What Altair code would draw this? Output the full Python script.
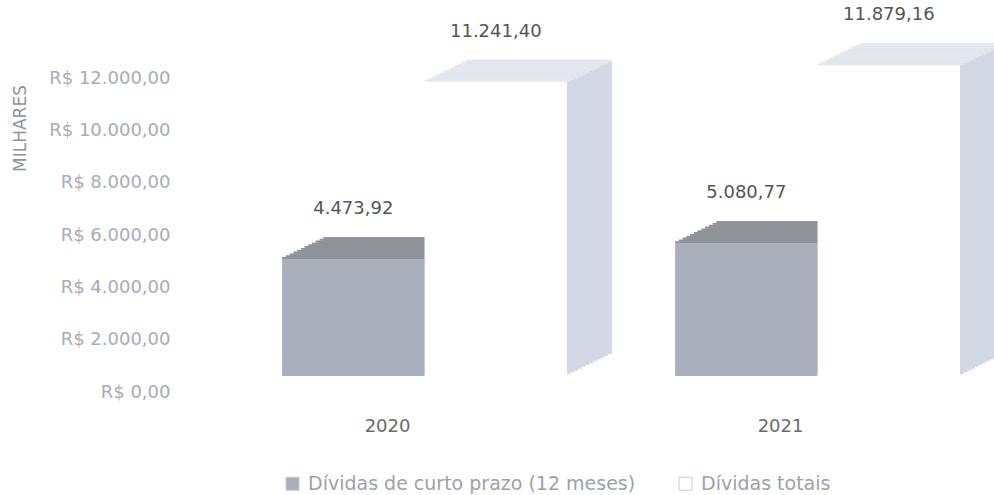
import altair as alt
import pandas as pd

# ---- data ----
years = ["2020", "2021"]
series = ["Dívidas de curto prazo (12 meses)", "Dívidas totais"]
short_term = [4473.92, 5080.77]
total = [11241.40, 11879.16]
y_ticks = [0, 2000, 4000, 6000, 8000, 10000, 12000]

# ---- styles ----
front_colors = ["#a9afbc", "#ffffff"]
side_colors = ["#8e9299", "#d3d9e4"]
top_colors = ["#8e9299", "#e4e8ef"]
FONT = "DejaVu Sans"

rows = []
for i, yr in enumerate(years):
    rows.append({"year": yr, "series": series[0], "value": short_term[i]})
    rows.append({"year": yr, "series": series[1], "value": total[i]})
df = pd.DataFrame(rows)

br_fmt = "replace(replace(replace(format(datum.value, ',.2f'), ',', '#'), '.', ','), '#', '.')"

x_scale = alt.Scale(domain=years, paddingInner=0.275, paddingOuter=0.1756, align=0.754)
x_axis = alt.Axis(domain=False, ticks=False, tickSize=0, labelPadding=25,
                  labelOffset=-37, labelAngle=0, labelFontSize=18,
                  labelColor="#6b6b6b", labelFont=FONT, grid=False)
y_enc = alt.Y(
    "value:Q",
    scale=alt.Scale(domain=[0, 12000], nice=False, zero=True, padding=0),
    axis=alt.Axis(values=y_ticks, labelExpr="'R$ ' + " + br_fmt,
                  domain=False, ticks=False, tickSize=0, grid=False,
                  labelPadding=8, labelFontSize=18, labelColor="#a6acb8",
                  labelFont=FONT, title="MILHARES", titleFont=FONT,
                  titleFontSize=17, titleFontWeight="normal",
                  titleColor="#8d929b", titleAngle=270, titleX=-158,
                  titleY=50, titleAlign="center", titleBaseline="middle"),
)


def series_chart(j):
    return alt.Chart(df).transform_filter(
        alt.datum.series == series[j]
    ).transform_calculate(label=br_fmt)


def x_enc(j):
    return dict(
        x=alt.X("year:N", title=None, scale=x_scale, axis=x_axis,
                bandPosition=0.5 * j),
        x2=alt.X2("year:N", bandPosition=0.5 * j + 0.5),
    )


FLOOR = -16          # front faces sit slightly above the axis zero (3D floor)
DEPTH_X, DEPTH_Y = 45, 22
n = 12

# side / depth extrusion: shifted copies drawn behind the front faces
depth_layers = []
for j in range(len(series)):
    for k in range(n, 0, -1):
        dx = DEPTH_X * k / n
        dy = FLOOR - DEPTH_Y * k / n
        depth_layers.append(
            series_chart(j).mark_bar(color=side_colors[j],
                                     xOffset=dx, x2Offset=dx,
                                     yOffset=dy, y2Offset=dy)
            .encode(y=y_enc, y2=alt.Y2(datum=0), **x_enc(j))
        )

# top faces: thin slanted strips above each front face
top_layers = []
for j in range(len(series)):
    for k in range(1, n + 1):
        dx = DEPTH_X * k / n
        top_layers.append(
            series_chart(j).mark_bar(color=top_colors[j],
                                     xOffset=dx - DEPTH_X / n, x2Offset=dx,
                                     yOffset=FLOOR - DEPTH_Y * k / n,
                                     y2Offset=FLOOR - DEPTH_Y * (k - 1) / n)
            .encode(y=y_enc, y2=alt.Y2("value:Q"), **x_enc(j))
        )

legend = alt.Legend(title=None, orient="none", legendX=105, legendY=396,
                    direction="horizontal", symbolType="square",
                    symbolSize=169, symbolStrokeColor="#c5cad3",
                    symbolStrokeWidth=1, labelFont=FONT, labelFontSize=19,
                    labelColor="#9da1a9", labelOffset=6, columnPadding=40,
                    labelLimit=400)

front_layers = []
for j in range(len(series)):
    front_layers.append(
        series_chart(j).mark_bar(yOffset=FLOOR, y2Offset=FLOOR).encode(
            color=alt.Color("series:N",
                            scale=alt.Scale(domain=series, range=front_colors),
                            legend=legend),
            y=y_enc, y2=alt.Y2(datum=0),
            **x_enc(j),
        )
    )

label_layers = []
for j in range(len(series)):
    label_layers.append(
        series_chart(j).mark_text(dy=-66, fontSize=18, font=FONT, color="#555555",
                                  baseline="middle").encode(
            x=alt.X("year:N", title=None, scale=x_scale, axis=x_axis,
                    bandPosition=0.25 + 0.5 * j),
            y=y_enc,
            text="label:N",
        )
    )

chart = alt.layer(*depth_layers, *top_layers, *front_layers, *label_layers).properties(
    width=816, height=314,
    autosize=alt.AutoSizeParams(type="none"),
    padding={"left": 178, "top": 78, "right": 0, "bottom": 103},
).configure_view(stroke=None)

chart.save("out.html", embed_options={"renderer": "svg", "actions": False})
